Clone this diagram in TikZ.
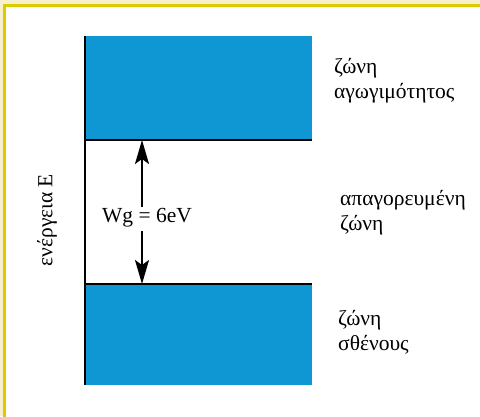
\documentclass[tikz,border=0pt]{standalone}
\usepackage{fontspec}
\setmainfont{Liberation Serif}
\usetikzlibrary{arrows.meta}
\definecolor{bandblue}{RGB}{14,151,211}
\definecolor{frameyellow}{RGB}{221,203,0}
\definecolor{paleyellow}{RGB}{246,241,202}
\tikzset{
  band/.style={fill=bandblue, draw=none},
  edgeline/.style={line width=2pt, black},
  gaparrow/.style={line width=2pt, -{Stealth[length=24pt,width=14pt,inset=5pt]}},
  txt/.style={font=\fontsize{21.5}{25}\selectfont, inner sep=0pt},
  lbl/.style={txt, align=left, anchor=west},
}
\begin{document}
\begin{tikzpicture}[x=1pt,y=-1pt]
\useasboundingbox (0,0) rectangle (480,416);
\clip (0,0) rectangle (480,416);
% frame
\fill[paleyellow] (0,0) rectangle (480,416);
\draw[frameyellow, line width=3pt, fill=white] (4.5,5.5) rectangle (500,440);
% bands
\path[band] (85,36) rectangle (312,140);
\path[band] (85,284) rectangle (312,385);
\coordinate (cbsw) at (84,140);
\coordinate (cbse) at (312,140);
\coordinate (vbnw) at (84,284);
\coordinate (vbne) at (312,284);
\coordinate (axtop) at (85,36);
\coordinate (axbot) at (85,385);
\draw[edgeline] (cbsw) -- (cbse);
\draw[edgeline] (vbnw) -- (vbne);
\draw[edgeline] (axtop) -- (axbot);
% gap label and arrows
\node[txt] (wg) at (147,218) {Wg = 6eV};
\coordinate (upstart) at (142,207);
\coordinate (uptip) at (142,140);
\coordinate (dnstart) at (142,231);
\coordinate (dntip) at (142,284);
\draw[gaparrow] (upstart) -- (uptip);
\draw[gaparrow] (dnstart) -- (dntip);
% labels
\node[lbl] (l1) at (334,81) {ζώνη\\αγωγιμότητος};
\node[lbl] (l2) at (340,213) {απαγορευμένη\\ζώνη};
\node[lbl] (l3) at (338,332) {ζώνη\\σθένους};
\node[txt, rotate=90] (en) at (47,220) {ενέργεια Ε};
\end{tikzpicture}
\end{document}
